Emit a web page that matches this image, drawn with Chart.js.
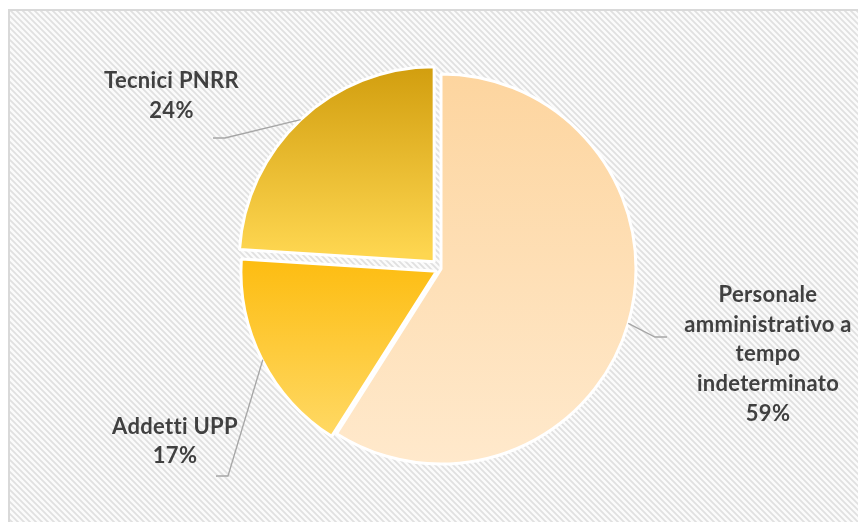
<!DOCTYPE html>
<html><head><meta charset="utf-8">
<script src="https://cdn.jsdelivr.net/npm/chart.js@4.4.0/dist/chart.umd.min.js"></script>
<style>html,body{margin:0;padding:0;background:#fff;}#wrap{width:858px;height:522px;position:relative}</style>
</head><body><div id="wrap"><canvas id="c" width="858" height="522"></canvas></div>
<script>
const categories = ["Personale amministrativo a tempo indeterminato", "Addetti UPP", "Tecnici PNRR"];
const values = [59, 17, 24];
const labelLines = [["Personale", "amministrativo a", "tempo", "indeterminato"], ["Addetti UPP"], ["Tecnici PNRR"]];

// styling
const gradTop = ["#fdd59f", "#fdbd12", "#d09c0c"];
const gradBottom = ["#ffe9cc", "#ffd965", "#fed650"];
const sliceOffset = [0, 20, 40];
const labelPos = [{x: 327, y: 84.5}, {x: -266, y: 171.5}, {x: -269.5, y: -174}];
const leaderElbow = [{x: 214, y: 68}, {x: -213, y: 207}, {x: -216, y: -131}];
const leaderEnd = [{x: 226, y: 68}, {x: -225, y: 207}, {x: -228, y: -131}];

const bgPlugin = {
  id: 'bg',
  beforeDraw(chart) {
    const ctx = chart.ctx;
    ctx.save();
    ctx.fillStyle = '#fff';
    ctx.fillRect(0, 0, chart.width, chart.height);
    const pc = document.createElement('canvas');
    pc.width = 6; pc.height = 6;
    const p = pc.getContext('2d');
    p.fillStyle = '#fbfbfb'; p.fillRect(0, 0, 6, 6);
    p.strokeStyle = '#e0e0e0'; p.lineWidth = 1.8;
    p.beginPath();
    p.moveTo(-2, -2); p.lineTo(8, 8);
    p.moveTo(-2, 4); p.lineTo(2, 8);
    p.moveTo(4, -2); p.lineTo(8, 2);
    p.stroke();
    ctx.fillStyle = ctx.createPattern(pc, 'repeat');
    ctx.fillRect(9, 10, chart.width - 9, chart.height - 10);
    ctx.strokeStyle = '#d9d9d9'; ctx.lineWidth = 2;
    ctx.strokeRect(9, 10, chart.width + 10, chart.height + 10);
    ctx.restore();
  }
};

const gradientPlugin = {
  id: 'grad',
  beforeDatasetsDraw(chart) {
    const ctx = chart.ctx;
    chart.getDatasetMeta(0).data.forEach((arc, i) => {
      const off = (arc.options.offset || 0) / 4;
      const half = (arc.startAngle + arc.endAngle) / 2;
      const cx = arc.x + Math.cos(half) * off, cy = arc.y + Math.sin(half) * off;
      const r = arc.outerRadius;
      const ys = [cy, cy + Math.sin(arc.startAngle) * r, cy + Math.sin(arc.endAngle) * r];
      for (const a of [-Math.PI / 2, Math.PI / 2, 3 * Math.PI / 2]) {
        if (a >= arc.startAngle - 1e-6 && a <= arc.endAngle + 1e-6) ys.push(cy + Math.sin(a) * r);
      }
      const top = Math.min(...ys), bot = Math.max(...ys);
      const g = ctx.createLinearGradient(0, top, 0, bot);
      g.addColorStop(0, gradTop[i]);
      g.addColorStop(1, gradBottom[i]);
      arc.options.backgroundColor = g;
    });
  }
};

const labelPlugin = {
  id: 'labels',
  afterDraw(chart) {
    const ctx = chart.ctx;
    const meta = chart.getDatasetMeta(0);
    const total = values.reduce((a, b) => a + b, 0);
    const pcx = meta.data[0].x, pcy = meta.data[0].y;
    meta.data.forEach((arc, i) => {
      const off = (arc.options.offset || 0) / 4;
      const half = (arc.startAngle + arc.endAngle) / 2;
      const r = arc.outerRadius;
      const sx = arc.x + Math.cos(half) * (off + r);
      const sy = arc.y + Math.sin(half) * (off + r);
      ctx.save();
      ctx.strokeStyle = '#a6a6a6'; ctx.lineWidth = 1.3;
      ctx.beginPath();
      ctx.moveTo(sx, sy);
      ctx.lineTo(pcx + leaderElbow[i].x, pcy + leaderElbow[i].y);
      ctx.lineTo(pcx + leaderEnd[i].x, pcy + leaderEnd[i].y);
      ctx.stroke();
      const lines = [...labelLines[i], Math.round(values[i] / total * 100) + '%'];
      ctx.font = 'bold 22px Lato';
      if ('letterSpacing' in ctx) ctx.letterSpacing = '0.3px';
      ctx.fillStyle = '#404040';
      ctx.textAlign = 'center';
      ctx.textBaseline = 'alphabetic';
      const lh = 29.6;
      const cx = pcx + labelPos[i].x, cy = pcy + labelPos[i].y;
      lines.forEach((t, k) => ctx.fillText(t, cx, cy + (k - (lines.length - 1) / 2) * lh + 7.8));
      ctx.restore();
    });
  }
};

new Chart(document.getElementById('c'), {
  type: 'pie',
  data: {
    labels: categories,
    datasets: [{
      data: values,
      backgroundColor: gradTop,
      borderColor: '#ffffff',
      borderWidth: 3,
      offset: sliceOffset,
      hoverOffset: 0
    }]
  },
  options: {
    responsive: false,
    animation: false,
    radius: 195,
    layout: {padding: {left: 241, right: 217, top: 69, bottom: 53}},
    plugins: {legend: {display: false}, tooltip: {enabled: false}},
    events: []
  },
  plugins: [bgPlugin, gradientPlugin, labelPlugin]
});
</script>
</body></html>
